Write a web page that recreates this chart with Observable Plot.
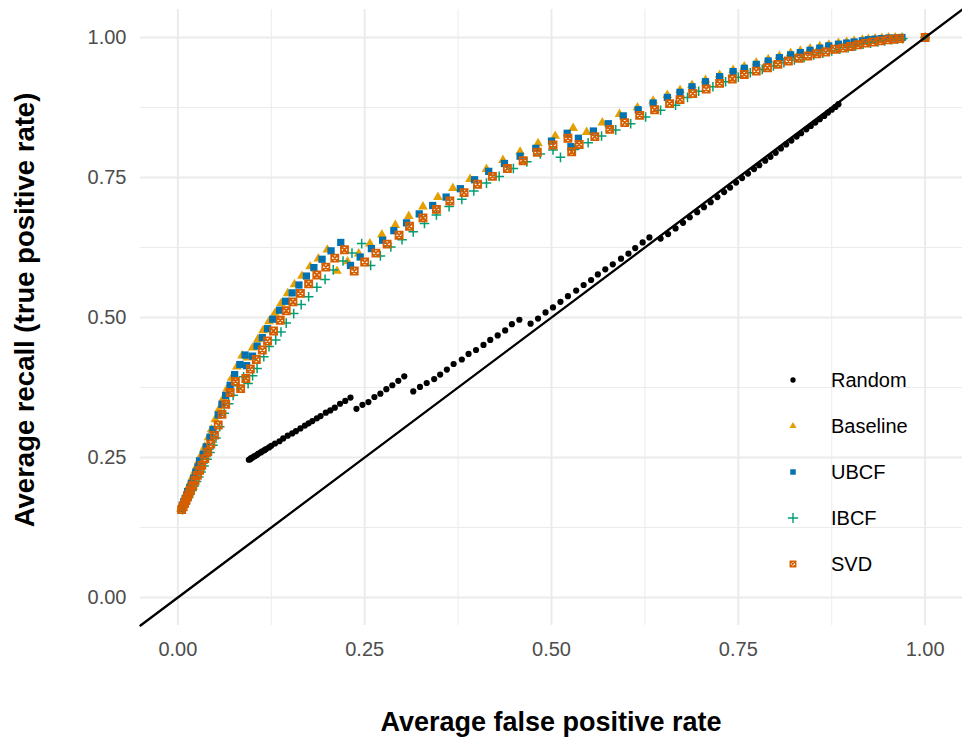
<!DOCTYPE html>
<html><head><meta charset="utf-8">
<script src="https://cdn.jsdelivr.net/npm/d3@7"></script>
<script src="https://cdn.jsdelivr.net/npm/@observablehq/plot@0.6"></script>
<style>
body{margin:0;background:#fff;font-family:"Liberation Sans",Arial,sans-serif;}
#wrap{position:relative;width:962px;height:740px;overflow:hidden;}
#xtitle{width:822px;margin-left:140px;height:50px;padding-top:17px;line-height:30px;text-align:center;font-weight:bold;font-size:27px;color:#000;box-sizing:border-box;}
#ytitle{position:absolute;left:25px;top:310px;transform:translate(-50%,-50%) rotate(-90deg);white-space:nowrap;font-weight:bold;font-size:27.5px;line-height:30px;color:#000;}
.lg{position:absolute;left:782px;height:30px;display:flex;align-items:center;font-size:20px;color:#000;}
.lg svg{width:22px;height:22px;margin-right:27px;}
</style>
</head><body>
<div id="wrap"><div id="chart"></div><div id="xtitle"></div><div id="ytitle"></div></div>
<script>
const seriesNames = ["Random","Baseline","UBCF","IBCF","SVD"];
const seriesColors = ["#000000","#E69F00","#0072B2","#009E73","#D55E00"];
const xTicks = [0,0.25,0.5,0.75,1];
const yTicks = [0,0.25,0.5,0.75,1];
const minorTicks = [0.125,0.375,0.625,0.875];
const axisDomain = [-0.05,1.05];
const xLabel = "Average false positive rate";
const yLabel = "Average recall (true positive rate)";

const randomFpr = [0.095,0.097,0.098,0.100,0.102,0.104,0.106,0.108,0.111,0.113,0.116,0.118,0.122,0.125,0.130,0.136,0.141,0.147,0.153,0.158,0.164,0.170,0.175,0.180,0.186,0.191,0.198,0.204,0.210,0.217,0.224,0.231,
0.239,0.247,0.255,0.263,0.271,0.279,0.287,0.295,0.303,
0.315,0.324,0.333,0.343,0.351,0.360,0.369,0.380,0.389,0.399,0.409,0.418,0.428,0.438,0.447,0.457,
0.472,0.482,0.492,0.502,0.512,0.522,0.533,0.543,0.553,0.562,0.572,0.582,0.593,0.603,0.612,0.622,0.631,
0.646,0.656,0.666,0.676,0.685,0.695,0.704,0.713,0.722,0.731,0.739,0.747,0.755,0.763,0.771,0.778,0.786,0.793,0.800,0.807,0.814,0.821,0.828,0.834,0.841,0.847,0.853,0.859,0.865,0.870,0.875,0.880,0.884];
const randomTpr = [0.246,0.247,0.249,0.250,0.252,0.253,0.255,0.257,0.259,0.261,0.263,0.265,0.268,0.271,0.275,0.279,0.284,0.289,0.293,0.297,0.302,0.307,0.311,0.315,0.320,0.324,0.330,0.334,0.339,0.346,0.351,0.357,
0.337,0.344,0.349,0.358,0.364,0.372,0.379,0.387,0.395,
0.368,0.376,0.383,0.390,0.398,0.407,0.417,0.425,0.435,0.442,0.451,0.460,0.468,0.477,0.488,0.496,
0.489,0.498,0.509,0.518,0.528,0.538,0.548,0.558,0.567,0.577,0.586,0.595,0.605,0.614,0.624,0.634,0.643,
0.641,0.649,0.659,0.669,0.679,0.688,0.697,0.706,0.715,0.724,0.732,0.741,0.749,0.757,0.765,0.772,0.780,0.787,0.794,0.802,0.809,0.816,0.823,0.829,0.836,0.842,0.848,0.854,0.860,0.866,0.871,0.876,0.881];

const baselineFpr = [0.004,0.006,0.007,0.009,0.011,0.013,0.015,0.017,0.020,0.023,0.026,0.028,0.032,0.036,0.041,0.045,0.050,0.055,0.061,0.066,0.072,0.079,0.086,0.093,0.100,0.107,0.114,0.122,0.130,0.138,0.147,0.156,0.166,0.177,0.188,0.200,0.213,0.227,0.242,0.257,0.273,0.291,0.309,0.328,0.348,0.368,0.391,0.413,0.435,0.458,0.482,0.505,0.529,0.547,0.568,0.591,0.615,0.636,0.655,0.672,0.688,0.706,0.725,0.743,0.758,0.774,0.790,0.805,0.820,0.833,0.846,0.859,0.871,0.884,0.895,0.905,0.916,0.924,0.933,0.942,0.951,0.960,0.969,1.0];
const baselineTpr = [0.158,0.165,0.171,0.178,0.185,0.192,0.199,0.206,0.216,0.226,0.236,0.243,0.256,0.269,0.286,0.300,0.318,0.336,0.356,0.373,0.392,0.412,0.432,0.428,0.446,0.461,0.477,0.493,0.508,0.525,0.543,0.559,0.574,0.591,0.605,0.621,0.583,0.600,0.614,0.632,0.648,0.665,0.681,0.698,0.715,0.731,0.747,0.765,0.781,0.796,0.811,0.824,0.838,0.831,0.848,0.863,0.875,0.887,0.897,0.906,0.915,0.924,0.933,0.942,0.948,0.955,0.961,0.967,0.972,0.976,0.980,0.984,0.987,0.990,0.992,0.994,0.996,0.997,0.998,0.999,1.0,1.0,1.0,1.0];

const ubcfFpr = [0.005,0.006,0.008,0.010,0.012,0.013,0.016,0.018,0.021,0.024,0.027,0.029,0.034,0.038,0.043,0.047,0.054,0.059,0.064,0.070,0.076,0.083,0.090,0.092,0.100,0.106,0.113,0.120,0.127,0.136,0.144,0.153,0.162,0.172,0.182,0.193,0.205,0.218,0.231,0.244,0.259,0.274,0.289,0.306,0.323,0.341,0.359,0.378,0.397,0.416,0.437,0.458,0.479,0.500,0.521,0.526,0.536,0.556,0.576,0.596,0.616,0.636,0.655,0.672,0.688,0.706,0.725,0.743,0.758,0.774,0.790,0.805,0.820,0.833,0.846,0.859,0.871,0.884,0.895,0.905,0.916,0.924,0.933,0.942,0.951,0.960,0.969,1.0];
const ubcfTpr = [0.159,0.165,0.171,0.177,0.183,0.189,0.196,0.204,0.213,0.224,0.233,0.244,0.256,0.269,0.286,0.300,0.326,0.345,0.361,0.379,0.398,0.416,0.433,0.414,0.431,0.449,0.464,0.480,0.497,0.513,0.529,0.544,0.558,0.574,0.589,0.604,0.619,0.634,0.593,0.608,0.623,0.638,0.655,0.669,0.685,0.700,0.715,0.730,0.746,0.761,0.775,0.788,0.802,0.815,0.829,0.805,0.820,0.833,0.846,0.860,0.871,0.883,0.893,0.902,0.912,0.921,0.930,0.939,0.945,0.952,0.958,0.964,0.969,0.973,0.977,0.981,0.985,0.988,0.990,0.992,0.994,0.996,0.997,0.998,0.999,0.999,1.0,1.0];

const ibcfFpr = [0.006,0.008,0.010,0.012,0.014,0.016,0.019,0.022,0.025,0.028,0.031,0.035,0.039,0.043,0.047,0.051,0.056,0.062,0.068,0.074,0.081,0.088,0.094,0.100,0.106,0.115,0.122,0.131,0.138,0.145,0.155,0.165,0.175,0.186,0.197,0.208,0.221,0.233,0.246,0.258,0.271,0.285,0.300,0.315,0.330,0.346,0.363,0.380,0.396,0.413,0.430,0.449,0.467,0.485,0.502,0.512,0.531,0.549,0.567,0.586,0.606,0.626,0.646,0.666,0.682,0.697,0.716,0.733,0.750,0.766,0.782,0.797,0.811,0.825,0.838,0.851,0.863,0.875,0.886,0.897,0.907,0.917,0.927,0.937,0.946,0.955,0.963,0.970,1.0];
const ibcfTpr = [0.157,0.162,0.167,0.173,0.178,0.184,0.191,0.199,0.207,0.215,0.224,0.235,0.247,0.259,0.272,0.285,0.305,0.329,0.346,0.361,0.378,0.394,0.382,0.396,0.409,0.430,0.448,0.460,0.474,0.490,0.507,0.523,0.537,0.554,0.568,0.585,0.601,0.615,0.632,0.593,0.610,0.626,0.639,0.653,0.668,0.683,0.698,0.711,0.726,0.740,0.752,0.766,0.778,0.792,0.799,0.786,0.800,0.812,0.824,0.835,0.846,0.858,0.870,0.879,0.893,0.904,0.912,0.921,0.929,0.937,0.943,0.949,0.955,0.960,0.964,0.969,0.972,0.976,0.979,0.982,0.985,0.988,0.990,0.992,0.994,0.996,0.997,0.998,1.0];

const svdFpr = [0.005,0.007,0.009,0.011,0.013,0.015,0.017,0.020,0.023,0.026,0.029,0.032,0.036,0.040,0.044,0.049,0.054,0.059,0.064,0.070,0.077,0.084,0.091,0.097,0.105,0.113,0.120,0.128,0.137,0.145,0.154,0.164,0.175,0.186,0.198,0.210,0.223,0.236,0.250,0.265,0.280,0.296,0.310,0.328,0.346,0.364,0.383,0.401,0.421,0.441,0.462,0.481,0.502,0.522,0.527,0.537,0.558,0.578,0.598,0.618,0.638,0.658,0.672,0.689,0.707,0.725,0.742,0.758,0.774,0.789,0.803,0.817,0.831,0.843,0.855,0.867,0.879,0.890,0.900,0.910,0.920,0.930,0.940,0.950,0.958,0.966,1.0];
const svdTpr = [0.157,0.162,0.168,0.174,0.180,0.186,0.192,0.200,0.209,0.218,0.227,0.236,0.248,0.260,0.274,0.290,0.308,0.327,0.345,0.366,0.386,0.373,0.391,0.408,0.425,0.442,0.458,0.476,0.495,0.512,0.528,0.543,0.560,0.576,0.590,0.606,0.621,0.583,0.599,0.615,0.631,0.647,0.663,0.678,0.693,0.708,0.723,0.738,0.752,0.766,0.780,0.795,0.808,0.820,0.796,0.809,0.823,0.836,0.848,0.861,0.871,0.882,0.889,0.900,0.908,0.918,0.926,0.934,0.940,0.946,0.952,0.958,0.963,0.967,0.971,0.974,0.979,0.981,0.984,0.987,0.990,0.992,0.994,0.996,0.997,0.998,1.0];

const pairs = (xs, ys) => xs.map((x, i) => ({fpr: x, tpr: ys[i]}));
const randomData = pairs(randomFpr, randomTpr);
const baselineData = pairs(baselineFpr, baselineTpr);
const ubcfData = pairs(ubcfFpr, ubcfTpr);
const ibcfData = pairs(ibcfFpr, ibcfTpr);
const svdData = pairs(svdFpr, svdTpr);
const diagonal = axisDomain.map(v => ({fpr: v, tpr: v}));

const squareCross = {
  draw(ctx, size) {
    const s = Math.sqrt(size) / 2;
    ctx.moveTo(-s, -s); ctx.lineTo(s, -s); ctx.lineTo(s, s); ctx.lineTo(-s, s); ctx.closePath();
    ctx.moveTo(-s, -s); ctx.lineTo(s, s);
    ctx.moveTo(s, -s); ctx.lineTo(-s, s);
  }
};
const fmt = d3.format(".2f");

const chart = Plot.plot({
  width: 962, height: 690,
  marginLeft: 140, marginRight: 0, marginTop: 9, marginBottom: 65,
  style: {fontFamily: '"Liberation Sans", Arial, sans-serif', fontSize: "20px", color: "#4d4d4d", background: "#fff", overflow: "visible"},
  x: {domain: axisDomain, ticks: xTicks, tickFormat: fmt, tickSize: 0, tickPadding: 16, label: null},
  y: {domain: axisDomain, ticks: yTicks, tickFormat: fmt, tickSize: 0, tickPadding: 14, label: null},
  marks: [
    Plot.ruleX(minorTicks, {stroke: "#ebebeb", strokeWidth: 1}),
    Plot.ruleY(minorTicks, {stroke: "#ebebeb", strokeWidth: 1}),
    Plot.ruleX(xTicks, {stroke: "#ebebeb", strokeWidth: 2}),
    Plot.ruleY(yTicks, {stroke: "#ebebeb", strokeWidth: 2}),
    Plot.dot(randomData, {x: "fpr", y: "tpr", r: 3.1, fill: seriesColors[0], symbol: "circle"}),
    Plot.dot(baselineData, {x: "fpr", y: "tpr", r: 3.6, fill: seriesColors[1], symbol: "triangle"}),
    Plot.dot(ubcfData, {x: "fpr", y: "tpr", r: 4.1, fill: seriesColors[2], symbol: "square"}),
    Plot.dot(ibcfData, {x: "fpr", y: "tpr", r: 3.2, fill: "none", stroke: seriesColors[3], strokeWidth: 1.5, symbol: "plus"}),
    Plot.dot(svdData, {x: "fpr", y: "tpr", r: 4.0, fill: "none", stroke: seriesColors[4], strokeWidth: 1.8, symbol: squareCross}),
    Plot.line(diagonal, {x: "fpr", y: "tpr", stroke: "#000", strokeWidth: 2.3})
  ]
});
document.getElementById("chart").appendChild(chart);
document.getElementById("xtitle").textContent = xLabel;
document.getElementById("ytitle").textContent = yLabel;

// legend (inside panel, bottom right)
const legendSymbols = [
  {type: d3.symbolCircle, size: 22, fill: true},
  {type: d3.symbolTriangle, size: 22, fill: true},
  {type: d3.symbolSquare, size: 30, fill: true},
  {type: d3.symbolPlus, size: 36, fill: false},
  {type: squareCross, size: 30, fill: false}
];
const legendTop = [365, 411, 457, 503, 549];
const wrap = document.getElementById("wrap");
seriesNames.forEach((name, i) => {
  const row = document.createElement("div");
  row.className = "lg";
  row.style.top = legendTop[i] + "px";
  const sym = legendSymbols[i];
  const path = d3.symbol(sym.type, sym.size)();
  const paint = sym.fill ? `fill="${seriesColors[i]}"` : `fill="none" stroke="${seriesColors[i]}" stroke-width="1.4"`;
  row.innerHTML = `<svg viewBox="-11 -11 22 22"><path d="${path}" ${paint}/></svg><span>${name}</span>`;
  wrap.appendChild(row);
});
</script>
</body></html>
